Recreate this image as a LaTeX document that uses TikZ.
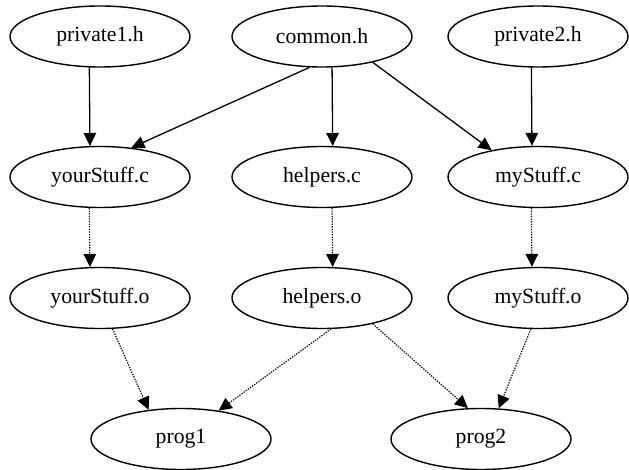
\documentclass[tikz,border=0pt]{standalone}
\usepackage{fontspec}
\setmainfont{Liberation Serif}
\usetikzlibrary{arrows.meta,shapes.geometric}
\tikzset{
  file/.style={ellipse, draw=black, line width=1.4pt, minimum width=180pt, minimum height=61pt, inner sep=0pt,
    font=\fontsize{21.7}{26}\selectfont},
  dep/.style={line width=1.3pt, -{Triangle[length=13pt,width=12.5pt]}},
  built/.style={line width=1.2pt, dash pattern=on 1.3pt off 1.3pt, -{Triangle[length=13pt,width=12.5pt]}},
}
\begin{document}
\begin{tikzpicture}[x=1pt,y=-1pt]
\useasboundingbox (0,0) rectangle (629,470);
\node[file] (p1) at (100,36.5) {private1.h};
\node[file] (com) at (322,36.5) {common.h};
\node[file] (p2) at (538,36.5) {private2.h};
\node[file] (ysc) at (100,177) {yourStuff.c};
\node[file] (hc) at (322,177) {helpers.c};
\node[file] (msc) at (538,177) {myStuff.c};
\node[file] (yso) at (100,298) {yourStuff.o};
\node[file] (ho) at (322,298) {helpers.o};
\node[file] (mso) at (538,298) {myStuff.o};
\node[file] (prog1) at (181,439) {prog1};
\node[file] (prog2) at (481,439) {prog2};

\draw[dep] (p1.251.8) -- (ysc.108.2);
\draw[dep] (com.248) -- (ysc.43);
\draw[dep] (com.288.2) -- (hc.71.8);
\draw[dep] (com.333) -- (msc.150.3);
\draw[dep] (p2.258.9) -- (msc.101.1);

\draw[built] (ysc.251.8) -- (yso.108.2);
\draw[built] (hc.288.2) -- (ho.71.8);
\draw[built] (msc.258.9) -- (mso.101.1);

\draw[built] (yso.292) -- (prog1.138);
\draw[built] (ho.286.7) -- (prog1.37.9);
\draw[built] (ho.333) -- (prog2.113.3);
\draw[built] (mso.257) -- (prog2.60.5);
\end{tikzpicture}
\end{document}
